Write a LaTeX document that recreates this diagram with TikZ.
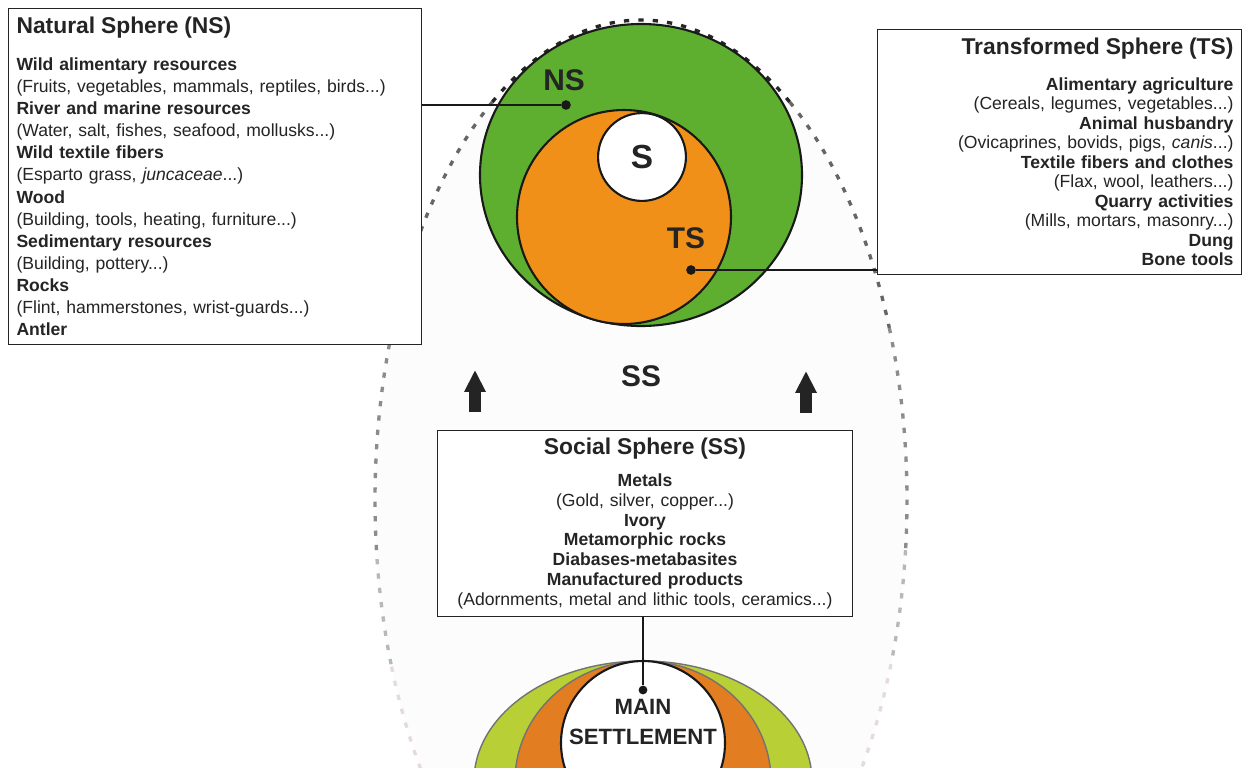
\documentclass[tikz,border=0pt]{standalone}
\usepackage{fontspec}
\setmainfont{Liberation Sans}
\usetikzlibrary{arrows.meta}

\definecolor{nsgreen}{RGB}{94,175,48}
\definecolor{tsorange}{RGB}{240,144,24}
\definecolor{msorange}{RGB}{226,125,33}
\definecolor{mslime}{RGB}{185,207,54}
\definecolor{inkgray}{RGB}{36,36,36}

\newcommand{\spheretitle}[1]{{\fontsize{13}{15}\selectfont\bfseries #1}}

\begin{document}
\begin{tikzpicture}[x=0.2mm, y=-0.2mm,
  every node/.style={text=inkgray},
  infobox/.style={draw=inkgray, fill=white, line width=0.7pt, inner xsep=4.5pt, inner ysep=5pt},
  spherelabel/.style={font=\fontsize{17}{20}\selectfont\bfseries},
  sphere line/.style={line width=1.2pt, draw=black!90},
  egg line/.style={line width=1.9pt, dash pattern=on 3pt off 5.2pt},
  pin dot/.style={circle, fill=black!90, inner sep=0pt, minimum size=5.5pt}]

  \useasboundingbox (0,0) rectangle (1244,767);
  \clip (0,0) rectangle (1244,767);

  % Social sphere (dashed egg, fading downwards)
  \fill[black!1] (641,500) ellipse [x radius=266, y radius=480];
  \foreach \a/\b/\c in {236/304/black!85, 201/236/black!60, 304/339/black!60,
                        174/201/black!45, 339/366/black!45, 160/174/black!28,
                        366/380/black!28, 140/160/red!30!black!14, 380/400/red!30!black!14}
    \draw[egg line, \c, shift={(641,500)}] (\a:266 and 480)
      arc[start angle=\a, end angle=\b, x radius=266, y radius=480];

  % Natural, transformed and settlement spheres
  \draw[sphere line, fill=nsgreen] (641,175) ellipse [x radius=161, y radius=151];
  \draw[sphere line, fill=tsorange] (624,217) circle [radius=107];
  \node[circle, sphere line, fill=white, minimum size=50pt, inner sep=0pt,
        font=\fontsize{19}{22}\selectfont\bfseries] (s) at (642,157) {S};

  \node[spherelabel] (nslabel) at (564,80) {NS};
  \node[spherelabel] (tslabel) at (686,238) {TS};
  \node[spherelabel] (sslabel) at (641,376) {SS};

  % Boxes
  \node[infobox, anchor=north west, text width=226pt, align=left,
        font=\fontsize{10}{12.6}\selectfont] (nsbox) at (8,8) {%
    \spheretitle{Natural Sphere (NS)}\\[8pt]
    \textbf{Wild alimentary resources}\\
    (Fruits, vegetables, mammals, reptiles, birds...)\\
    \textbf{River and marine resources}\\
    (Water, salt, fishes, seafood, mollusks...)\\
    \textbf{Wild textile fibers}\\
    (Esparto grass, \textit{juncaceae}...)\\
    \textbf{Wood}\\
    (Building, tools, heating, furniture...)\\
    \textbf{Sedimentary resources}\\
    (Building, pottery...)\\
    \textbf{Rocks}\\
    (Flint, hammerstones, wrist-guards...)\\
    \textbf{Antler}};

  \node[infobox, anchor=north east, text width=198pt, align=right,
        font=\fontsize{10}{11.1}\selectfont] (tsbox) at (1242,29) {%
    \spheretitle{Transformed Sphere (TS)}\\[9pt]
    \textbf{Alimentary agriculture}\\
    (Cereals, legumes, vegetables...)\\
    \textbf{Animal husbandry}\\
    (Ovicaprines, bovids, pigs, \textit{canis}...)\\
    \textbf{Textile fibers and clothes}\\
    (Flax, wool, leathers...)\\
    \textbf{Quarry activities}\\
    (Mills, mortars, masonry...)\\
    \textbf{Dung}\\
    \textbf{Bone tools}};

  \node[infobox, anchor=north, text width=227pt, align=center, inner ysep=4pt,
        font=\fontsize{10}{11.3}\selectfont] (ssbox) at (645,430) {%
    \spheretitle{Social Sphere (SS)}\\[7pt]
    \textbf{Metals}\\
    (Gold, silver, copper...)\\
    \textbf{Ivory}\\
    \textbf{Metamorphic rocks}\\
    \textbf{Diabases-metabasites}\\
    \textbf{Manufactured products}\\
    (Adornments, metal and lithic tools, ceramics...)};

  % Pins from boxes to spheres
  \node[pin dot] (nsdot) at (566,105) {};
  \node[pin dot] (tsdot) at (691,270) {};
  \draw[line width=0.8pt, black!90] (nsbox.east |- nsdot) -- (nsdot);
  \draw[line width=0.8pt, black!90] (tsdot) -- (tsbox.west |- tsdot);

  % Upward arrows
  \draw[-{Triangle[length=12.5pt, width=11.5pt]}, line width=6.3pt, inkgray] (475,412) -- (475,370);
  \draw[-{Triangle[length=12.5pt, width=11.5pt]}, line width=6.3pt, inkgray] (806,413) -- (806,371);

  % Main settlement
  \draw[black!55, line width=0.8pt, fill=mslime] (643,781) ellipse [x radius=169, y radius=120];
  \draw[black!55, line width=0.8pt, fill=msorange] (643,781) ellipse [x radius=128, y radius=120];
  \draw[sphere line, fill=white] (643,743) circle [radius=82];
  \node[align=center, font=\fontsize{12.6}{17}\selectfont\bfseries] (mslabel) at (643,722) {MAIN\\SETTLEMENT};
  \node[pin dot, minimum size=5pt] (msdot) at (643,690) {};
  \draw[line width=1.5pt, black!90] (ssbox.south -| msdot) -- (msdot);
\end{tikzpicture}
\end{document}
